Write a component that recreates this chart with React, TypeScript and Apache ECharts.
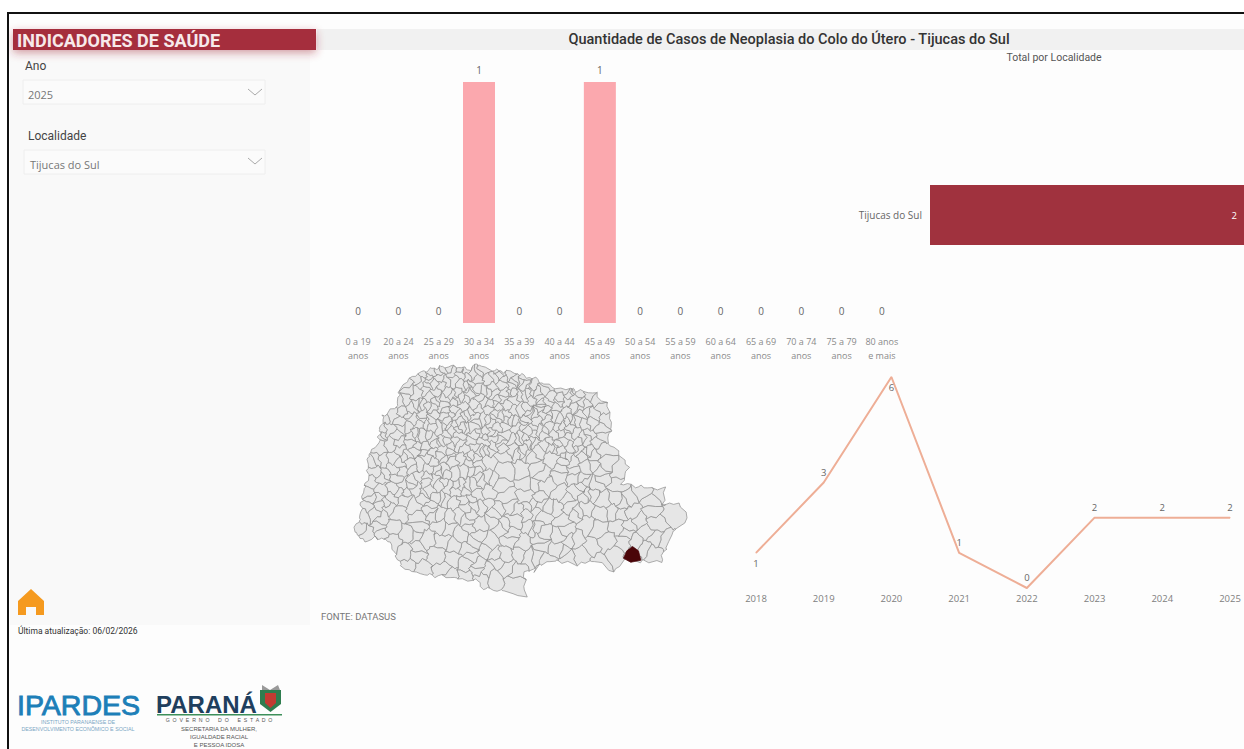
import React, { useEffect, useRef } from "react";
import * as echarts from "echarts";

const ageCategories = ["0 a 19\nanos", "20 a 24\nanos", "25 a 29\nanos", "30 a 34\nanos", "35 a 39\nanos", "40 a 44\nanos", "45 a 49\nanos", "50 a 54\nanos", "55 a 59\nanos", "60 a 64\nanos", "65 a 69\nanos", "70 a 74\nanos", "75 a 79\nanos", "80 anos\ne mais"];
const ageValues = [0, 0, 0, 1, 0, 0, 1, 0, 0, 0, 0, 0, 0, 0];
const localities = ["Tijucas do Sul"];
const localityValues = [2];
const years = ["2018", "2019", "2020", "2021", "2022", "2023", "2024", "2025"];
const yearValues = [1, 3, 6, 1, 0, 2, 2, 2];
const yearLabelsBelow = ["2018", "2020"];
const mapValues = [{ name: "Tijucas do Sul", value: 2 }];

// Approximate outline of Paraná and of the highlighted municipality, in picture pixels.
const outline: number[][] = [[42,510],[60,470],[65,420],[70,385],[85,340],[80,290],[115,250],[120,205],[130,170],[175,130],[180,90],[205,60],[260,30],[300,22],[350,20],[385,30],[415,12],[450,30],[500,35],[560,50],[610,70],[650,85],[700,90],[760,100],[800,130],[810,200],[800,250],[830,270],[865,320],[845,370],[900,380],[970,385],[965,430],[1010,430],[1040,475],[1000,510],[975,560],[960,600],[900,600],[850,600],[820,635],[770,600],[700,610],[640,600],[600,610],[550,640],[555,710],[490,690],[430,680],[410,660],[340,650],[250,640],[190,625],[160,570],[150,540],[100,530],[70,545]].map(([x, y]) => [340 + x / 3, 360 + y / 3]);
const tijucas: number[][] = [[848,592],[858,570],[875,557],[893,570],[900,598],[870,604]].map(([x, y]) => [340 + x / 3, 360 + y / 3]);

function inside(p: number[], poly: number[][]) {
  let c = false;
  for (let i = 0, j = poly.length - 1; i < poly.length; j = i++) {
    const a = poly[i], b = poly[j];
    if (a[1] > p[1] !== b[1] > p[1] && p[0] < ((b[0] - a[0]) * (p[1] - a[1])) / (b[1] - a[1]) + a[0]) c = !c;
  }
  return c;
}
const frac = (v: number) => v - Math.floor(v);

// Wavy borders: a smooth displacement applied to every mesh vertex.
const warp = ([x, y]: number[]) => [
  x + 1.3 * Math.sin(y * 0.61 + x * 0.17) + 0.8 * Math.sin(y * 1.37 - x * 0.43),
  y + 1.3 * Math.sin(x * 0.57 - y * 0.21) + 0.8 * Math.sin(x * 1.29 + y * 0.47),
];
function wavy(poly: number[][]) {
  const out: number[][] = [];
  poly.forEach((a, i) => {
    const b = poly[(i + 1) % poly.length];
    for (let k = 0; k < 3; k++) {
      out.push(warp([a[0] + ((b[0] - a[0]) * k) / 3, a[1] + ((b[1] - a[1]) * k) / 3]));
    }
  });
  return out;
}

// Municipal mesh: decorative boundaries only, not data.
function buildMesh() {
  const seeds: number[][] = [];
  for (let n = 1; n < 1500; n++) {
    const u = frac(n * 0.7548776662) + 0.02 * Math.sin(n * 12.9898);
    const v = frac(n * 0.569840291) + 0.024 * Math.sin(n * 78.233);
    const x = 354 + u * 333, y = 364 + v * 233;
    if (!inside([x, y], outline)) continue;
    let d = 0.66;
    if (v < 0.42 && u > 0.2 && u < 0.72) d = 1;
    if (v > 0.62) d = 0.34;
    if (u > 0.7) d = 0.3;
    if (u > 0.42 && u < 0.62 && v > 0.38 && v < 0.6) d = 0.24;
    if (frac(n * 0.6180339887) < d) seeds.push([x, y]);
  }
  return seeds.map((s) => {
    let poly = outline;
    for (const o of seeds) {
      if (o === s || poly.length === 0) continue;
      const mx = (s[0] + o[0]) / 2, my = (s[1] + o[1]) / 2, nx = o[0] - s[0], ny = o[1] - s[1];
      if (nx * nx + ny * ny > 6400) continue;
      const next: number[][] = [];
      for (let i = 0; i < poly.length; i++) {
        const a = poly[i], b = poly[(i + 1) % poly.length];
        const da = (a[0] - mx) * nx + (a[1] - my) * ny, db = (b[0] - mx) * nx + (b[1] - my) * ny;
        if (da <= 0) next.push(a);
        if (da < 0 !== db < 0 && da !== db) {
          const t = da / (da - db);
          next.push([a[0] + (b[0] - a[0]) * t, a[1] + (b[1] - a[1]) * t]);
        }
      }
      poly = next;
    }
    return poly;
  }).filter((p) => p.length > 2).map(wavy);
}

const feature = (name: string, poly: number[][]) => {
  const ring = poly.map(([x, y]) => [x, -y]);
  ring.push(ring[0]);
  return { type: "Feature", properties: { name }, geometry: { type: "Polygon", coordinates: [ring] } };
};

const SANS = '"Open Sans", sans-serif';
const DIN = 'Roboto, sans-serif';
const ARIAL = '"Liberation Sans", Arial, sans-serif';

const txt = (text: string, x: number, y: number, fontSize: number, fill: string, fontFamily = DIN, textAlign = "left", fontWeight: any = "normal", extra: any = {}) => ({
  type: "text", x, y, silent: true,
  style: { text, fontSize, fill, fontFamily, textAlign, textVerticalAlign: "middle", fontWeight, ...extra },
});
const box = (x: number, y: number, width: number, height: number, fill: string, stroke?: string, extra: any = {}) => ({
  type: "rect", silent: true, shape: { x, y, width, height }, style: { fill, stroke, lineWidth: stroke ? 1 : 0, ...extra },
});
const chevron = (x: number, y: number) => ({
  type: "polyline", silent: true,
  shape: { points: [[x, y], [x + 7, y + 6], [x + 14, y]] },
  style: { fill: "none", stroke: "#aaaaaa", lineWidth: 1 },
});

export default function App() {
  const ref = useRef<HTMLDivElement>(null);
  useEffect(() => {
    document.body.style.margin = "0";
    const features = buildMesh().map((p, i) => feature("m" + i, p));
    features.push(feature("Tijucas do Sul", tijucas));
    echarts.registerMap("parana", { type: "FeatureCollection", features } as any);
    const chart = echarts.init(ref.current!, undefined, { renderer: "svg" });
    chart.setOption({
      animation: false,
      backgroundColor: "#fdfdfd",
      grid: [
        { left: 338, top: 82, width: 564, height: 241 },
        { left: 930, top: 185, width: 314, height: 60 },
        { left: 756, top: 377, width: 474, height: 211 },
      ],
      xAxis: [
        { gridIndex: 0, type: "category", data: ageCategories, axisLine: { show: false }, axisTick: { show: false }, axisLabel: { interval: 0, fontSize: 9, color: "#8a8a8a", fontFamily: SANS, lineHeight: 14.5, margin: 11 } },
        { gridIndex: 1, type: "value", min: 0, max: 2, show: false },
        { gridIndex: 2, type: "category", data: years, boundaryGap: false, axisLine: { show: false }, axisTick: { show: false }, axisLabel: { interval: 0, fontSize: 9.5, color: "#808080", fontFamily: SANS, margin: 5 } },
      ],
      yAxis: [
        { gridIndex: 0, type: "value", min: 0, max: 1, show: false },
        { gridIndex: 1, type: "category", data: localities, axisLine: { show: false }, axisTick: { show: false }, axisLabel: { fontSize: 10, color: "#666666", fontFamily: SANS, margin: 8 } },
        { gridIndex: 2, type: "value", min: 0, max: 6, show: false },
      ],
      series: [
        {
          type: "bar", xAxisIndex: 0, yAxisIndex: 0, data: ageValues, barWidth: 32,
          itemStyle: { color: "#fba8ae" },
          label: { show: true, position: "top", distance: 7, fontSize: 10, color: "#666666", fontFamily: SANS },
        },
        {
          type: "bar", xAxisIndex: 1, yAxisIndex: 1, data: localityValues, barWidth: 60,
          itemStyle: { color: "#a0323e" },
          label: { show: true, position: "insideRight", distance: 7, fontSize: 9.5, color: "#ffffff", fontFamily: SANS },
        },
        {
          type: "line", xAxisIndex: 2, yAxisIndex: 2, showSymbol: true, symbol: "circle", symbolSize: 1,
          itemStyle: { color: "#eeae96" },
          data: yearValues.map((value, i) => ({
            value,
            label: { show: true, position: yearLabelsBelow.includes(years[i]) ? "bottom" : "top", distance: 5, fontSize: 9.5, color: "#666666", fontFamily: SANS },
          })),
          lineStyle: { color: "#eeae96", width: 2 },
        },
        {
          type: "map", map: "parana", left: 354, top: 364, width: 333, height: 233, aspectScale: 1, roam: false, silent: true,
          selectedMode: false,
          label: { show: false },
          itemStyle: { areaColor: "#e6e6e6", borderColor: "#8c8c8c", borderWidth: 0.7 },
          emphasis: { disabled: true },
          data: mapValues.map((d) => ({ ...d, itemStyle: { areaColor: "#4a0508", borderColor: "#4a0508" } })),
        },
      ],
      graphic: [
        box(10, 50, 300, 575, "#f9f9f9"),
        box(317, 29, 927, 21, "#f1f1f1"),
        box(13, 29, 303, 21, "#a52d3c", undefined, { shadowBlur: 9, shadowColor: "rgba(165,45,60,0.45)", shadowOffsetY: 3 }),
        txt("INDICADORES DE SAÚDE", 17, 40, 18, "#f7e9ea", DIN, "left", 700),
        txt("Quantidade de Casos de Neoplasia do Colo do Útero - Tijucas do Sul", 789, 39, 14.5, "#333333", DIN, "center", 500),
        txt("Total por Localidade", 1054, 57, 10.5, "#555555", DIN, "center"),
        txt("Ano", 25, 66, 12, "#444444"),
        box(23, 80, 242, 24, "#fbfbfb", "#eeeeee"),
        txt("2025", 28, 94, 11, "#777777", SANS),
        chevron(248, 89),
        txt("Localidade", 28, 136, 12, "#444444"),
        box(24, 150, 241, 24, "#fbfbfb", "#eeeeee"),
        txt("Tijucas do Sul", 30, 164, 11, "#777777", SANS),
        chevron(248, 158),
        { type: "polygon", silent: true, shape: { points: [[18,601],[31,589],[44,601],[44,615],[36,615],[36,607],[26,607],[26,615],[18,615]] }, style: { fill: "#f59a1f" } },
        txt("Última atualização: 06/02/2026", 18, 631, 8.5, "#333333"),
        txt("FONTE: DATASUS", 321, 616, 9.5, "#777777"),
        txt("IPARDES", 17, 705, 28.5, "#1d7fb8", ARIAL, "left", "normal", { stroke: "#1d7fb8", lineWidth: 0.9 }),
        txt("INSTITUTO PARANAENSE DE", 78, 722, 5.3, "#7ba6c4", ARIAL, "center"),
        txt("DESENVOLVIMENTO ECONÔMICO E SOCIAL", 78, 729, 5.3, "#7ba6c4", ARIAL, "center"),
        txt("PARANÁ", 156, 704, 24, "#1f3f5e", ARIAL, "left", "bold"),
        box(157, 714, 125, 1.5, "#3d8f5a"),
        txt("G  O  V  E  R  N  O      D  O      E  S  T  A  D  O", 219, 720, 5.2, "#555555", ARIAL, "center"),
        txt("SECRETARIA DA MULHER,", 219, 729, 6, "#555555", ARIAL, "center"),
        txt("IGUALDADE RACIAL", 219, 737, 6, "#555555", ARIAL, "center"),
        txt("E PESSOA IDOSA", 219, 745, 6, "#555555", ARIAL, "center"),
        { type: "polygon", silent: true, shape: { points: [[262,685],[270,690],[278,685],[280,690],[262,690]] }, style: { fill: "#9a9a9a" } },
        { type: "polygon", silent: true, shape: { points: [[260,690],[281,690],[281,704],[270.5,712],[260,704]] }, style: { fill: "#2f7d4f" } },
        { type: "polygon", silent: true, shape: { points: [[265,693],[276,693],[276,703],[270.5,708],[265,703]] }, style: { fill: "#c23b32" } },
        box(0, 0, 1244, 12, "#ffffff"),
        box(7, 12, 1237, 2, "#111111"),
        box(0, 12, 7, 737, "#ffffff"),
        box(7, 12, 2, 737, "#111111"),
      ],
    });
    return () => chart.dispose();
  }, []);
  return <div ref={ref} style={{ width: 1244, height: 749 }} />;
}
